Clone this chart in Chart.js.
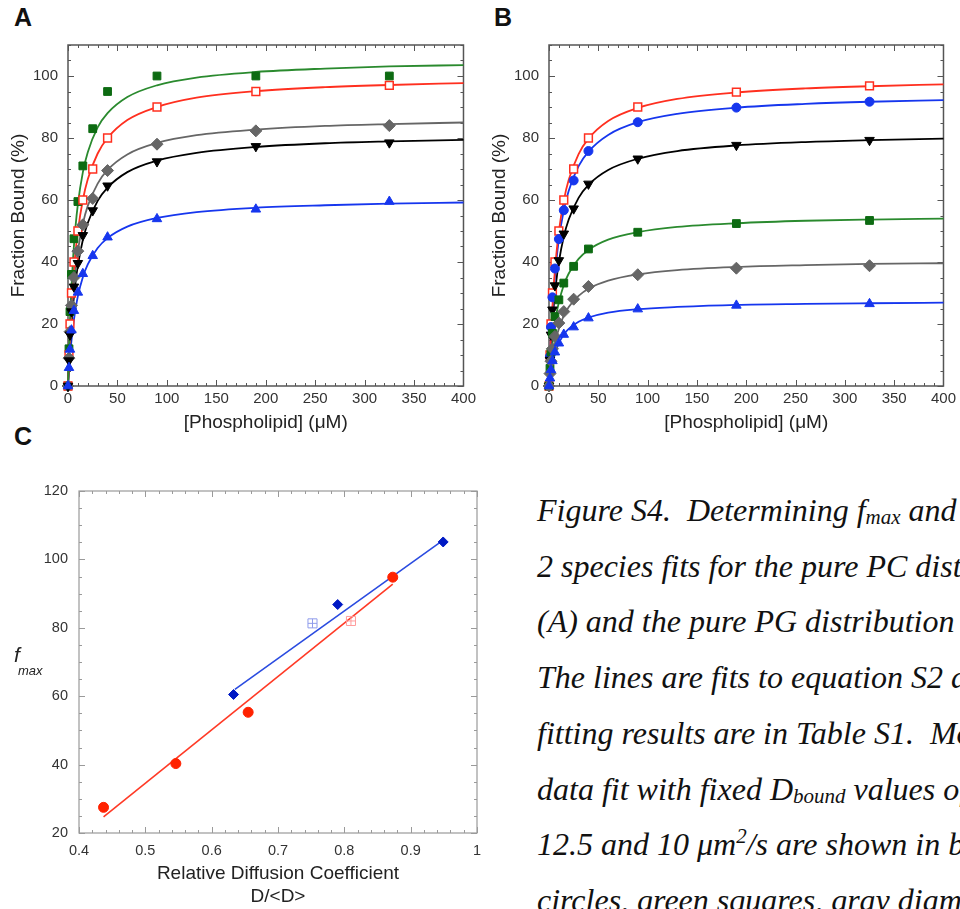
<!DOCTYPE html>
<html>
<head>
<meta charset="utf-8">
<script src="https://cdn.jsdelivr.net/npm/chart.js@4.4.0/dist/chart.umd.min.js"></script>
<style>
html, body { margin: 0; padding: 0; background: #fff; }
body { width: 960px; height: 909px; overflow: hidden; position: relative; }
canvas { position: absolute; }
.lbl { position: absolute; font: bold 25px "Liberation Sans", Arial, sans-serif; line-height: 25px; color: #111; }
#cap { position: absolute; left: 537px; top: 483px; font: italic 32px "Liberation Serif", "Times New Roman", serif;
       line-height: 55.7px; white-space: nowrap; color: #111; }
#cap .sb { font-size: 21px; vertical-align: -3px; line-height: 0; }
#cap .sp { font-size: 21px; vertical-align: 12px; line-height: 0; }
</style>
</head>
<body>
<div class="lbl" style="left:14px;top:5px">A</div>
<div class="lbl" style="left:494px;top:5px">B</div>
<div class="lbl" style="left:14px;top:424px">C</div>

<canvas id="chartA" width="480" height="440" style="left:0;top:0"></canvas>
<canvas id="chartB" width="480" height="440" style="left:480px;top:0"></canvas>
<canvas id="chartC" width="500" height="469" style="left:0;top:440px"></canvas>

<div id="cap">
<div>Figure S4.&nbsp; Determining f<span class="sb">max</span> and D<span class="sb">bound</span> values</div>
<div>2 species fits for the pure PC distribution</div>
<div>(A) and the pure PG distribution (B).</div>
<div>The lines are fits to equation S2 and the</div>
<div>fitting results are in Table S1.&nbsp; Monte</div>
<div>data fit with fixed D<span class="sb">bound</span> values of 20, 15,</div>
<div>12.5 and 10 &mu;m<span class="sp">2</span>/s are shown in blue</div>
<div>circles, green squares, gray diamonds</div>
</div>

<script>
// concentrations of the measured points (uM)
var conc = [0, 1, 2, 3.5, 6, 10, 15, 25, 40, 90, 190, 325];
// x positions where the fitted curves were read
var fitX = [0, 1, 2, 3, 5, 7.5, 10, 15, 20, 30, 40, 60, 90, 130, 190, 260, 325, 400];
var xTicksAB = [0, 50, 100, 150, 200, 250, 300, 350, 400];
var yTicksAB = [0, 20, 40, 60, 80, 100];

// panel A - pure PC
var aGreen = [0, 12, 24, 36, 47.5, 59.5, 71, 83, 95, 100, 100, 100];
var aRed = [0, 10, 20, 30, 40, 50, 60, 70, 80, 90, 95, 97];
var aGray = [0, 9, 17.5, 26, 35, 43.5, 52, 60.5, 69.5, 78, 82.3, 84];
var aBlack = [0, 8.2, 16.5, 24, 32, 39.6, 48.6, 56.6, 64.6, 72.4, 77.3, 78.5];
var aBlue = [0, 5.9, 11.8, 18, 24.3, 30.2, 36.2, 42, 48, 53.9, 57, 59.5];

var aGreenFit = [0, 11.7, 21.1, 28.8, 40.6, 51.1, 58.7, 68.9, 75.4, 83.4, 88, 93.2, 97, 99.5, 101.3, 102.4, 103.1, 103.5];
var aRedFit = [0, 9.1, 16.7, 23.1, 33.4, 42.9, 50, 60, 66.7, 75, 80, 85.8, 90, 93, 95.1, 96.4, 97.1, 97.7];
var aGrayFit = [0, 7.9, 14.5, 20.1, 29, 37.3, 43.6, 52.3, 58.1, 65.3, 69.7, 74.7, 78.4, 80.9, 82.7, 83.9, 84.5, 85];
var aBlackFit = [0, 6.8, 12.6, 17.5, 25.5, 33.1, 38.9, 47.1, 52.6, 59.7, 64, 69, 72.7, 75.2, 77.1, 78.3, 78.9, 79.4];
var aBlueFit = [0, 5.1, 9.4, 13, 19, 24.6, 29, 35.1, 39.2, 44.5, 47.7, 51.4, 54.2, 56.1, 57.5, 58.3, 58.8, 59.2];

// panel B - pure PG
var bRed = [0, 10, 20, 30, 40, 50, 60, 70, 80, 90, 94.8, 96.8];
var bBlueCirc = [0, 9.5, 19, 28.6, 37.9, 47.4, 56.7, 66.3, 75.8, 85.1, 89.8, 91.7];
var bBlack = [0, 8.4, 16.5, 24.6, 32.4, 40.5, 49.1, 57.2, 65.2, 73.3, 77.7, 79.3];
var bGreen = [0, 5.7, 11, 17, 22.4, 27.8, 33.2, 38.6, 44.2, 49.6, 52.4, 53.4];
var bGray = [0, 4, 8, 12, 16, 20.3, 24, 28, 32.1, 35.9, 38, 38.8];
var bBlueTri = [0, 2.5, 5.2, 8.1, 10.9, 13.8, 16.6, 19, 21.9, 24.8, 26, 26.5];

var bRedFit = [0, 9.1, 16.6, 23, 33.2, 42.7, 49.9, 59.8, 66.5, 74.8, 79.8, 85.5, 89.7, 92.6, 94.7, 96, 96.7, 97.3];
var bBlueCircFit = [0, 8.6, 15.8, 21.8, 31.5, 40.5, 47.3, 56.7, 63, 70.9, 75.6, 81, 85.1, 87.8, 89.8, 91, 91.7, 92.2];
var bBlackFit = [0, 7.1, 13.1, 18.2, 26.5, 34.1, 40, 48.2, 53.7, 60.7, 64.9, 69.7, 73.3, 75.8, 77.6, 78.7, 79.3, 79.8];
var bGreenFit = [0, 4.8, 8.9, 12.3, 17.9, 23.1, 27, 32.6, 36.3, 41, 43.9, 47.2, 49.6, 51.3, 52.5, 53.3, 53.7, 54];
var bGrayFit = [0, 3.1, 5.8, 8.2, 12, 15.7, 18.5, 22.7, 25.5, 29.1, 31.4, 34, 36, 37.4, 38.4, 39, 39.4, 39.6];
var bBlueTriFit = [0, 2.5, 4.6, 6.4, 9.2, 11.8, 13.8, 16.6, 18.4, 20.7, 22.1, 23.7, 24.8, 25.5, 26.2, 26.5, 26.7, 26.9];

// panel C - fmax vs relative diffusion coefficient
var cBlueX = [0.633, 0.790, 0.949];
var cBlueY = [60.5, 86.8, 105.1];
var cRedX = [0.437, 0.546, 0.655, 0.873];
var cRedY = [27.5, 40.3, 55.3, 94.8];
var cOpenBlueX = [0.752];
var cOpenBlueY = [81.3];
var cOpenRedX = [0.810];
var cOpenRedY = [82.0];
var cBlueLineX = [0.635, 0.948];
var cBlueLineY = [62, 105.5];
var cRedLineX = [0.437, 0.873];
var cRedLineY = [24.7, 92.8];
var xTicksC = [0.4, 0.5, 0.6, 0.7, 0.8, 0.9, 1];
var yTicksC = [20, 40, 60, 80, 100, 120];

var GREEN = '#0d6b12', GREENLINE = '#2a8a2e', RED = '#ff2f1f', GRAY = '#666666', BLACK = '#000000', BLUE = '#1636ee';

Chart.defaults.font.family = '"Liberation Sans", Arial, sans-serif';
Chart.defaults.color = '#333';

function pts(xs, ys) {
    var out = [];
    for (var i = 0; i < xs.length; i++) {
        if (ys[i] !== null) out.push({ x: xs[i], y: ys[i] });
    }
    return out;
}

function fitSet(ys, color) {
    return {
        data: pts(fitX, ys), showLine: true, borderColor: color, borderWidth: 1.8,
        pointRadius: 0, cubicInterpolationMode: 'monotone', order: 2, clip: false
    };
}

function markSet(ys, color, style, r, filled, rot) {
    return {
        data: pts(conc, ys), showLine: false, pointStyle: style, pointRadius: r,
        pointRotation: rot || 0, backgroundColor: filled ? color : '#fff',
        borderColor: color, borderWidth: filled ? 1 : 1.5, order: 1, clip: false
    };
}

// frame and inward ticks on all four sides
function frameTicks(o) {
    return {
        id: 'frameTicks',
        beforeDatasetsDraw: function (chart) {
            var ctx = chart.ctx, a = chart.chartArea, sx = chart.scales.x, sy = chart.scales.y;
            ctx.save();
            ctx.strokeStyle = o.color;
            ctx.lineWidth = o.width;
            ctx.strokeRect(a.left, a.top, a.right - a.left, a.bottom - a.top);
            ctx.lineWidth = 1;
            ctx.beginPath();
            var n = Math.round((sx.max - sx.min) / o.xMinor), i, v, p, len;
            for (i = 0; i <= n; i++) {
                v = sx.min + i * o.xMinor;
                p = Math.round(sx.getPixelForValue(v)) + 0.5;
                len = Math.abs(v / o.xMajor - Math.round(v / o.xMajor)) < 1e-6 ? o.major : o.minor;
                ctx.moveTo(p, a.bottom); ctx.lineTo(p, a.bottom - len);
                ctx.moveTo(p, a.top); ctx.lineTo(p, a.top + len);
            }
            n = Math.round((sy.max - sy.min) / o.yMinor);
            for (i = 0; i <= n; i++) {
                v = sy.min + i * o.yMinor;
                p = Math.round(sy.getPixelForValue(v)) + 0.5;
                len = Math.abs(v / o.yMajor - Math.round(v / o.yMajor)) < 1e-6 ? o.major : o.minor;
                ctx.moveTo(a.left, p); ctx.lineTo(a.left + len, p);
                ctx.moveTo(a.right, p); ctx.lineTo(a.right - len, p);
            }
            ctx.stroke();
            ctx.restore();
        }
    };
}

function bindingChart(id, datasets, yAxisWidth, yTitlePad) {
    return new Chart(document.getElementById(id), {
        type: 'scatter',
        data: { datasets: datasets },
        options: {
            responsive: false, animation: false, devicePixelRatio: 1,
            layout: { padding: { top: 45, right: 15, left: 0, bottom: 0 } },
            plugins: { legend: { display: false }, tooltip: { enabled: false } },
            scales: {
                x: {
                    type: 'linear', min: 0, max: 400,
                    grid: { display: false, drawTicks: false }, border: { display: false },
                    afterBuildTicks: function (s) { s.ticks = xTicksAB.map(function (v) { return { value: v }; }); },
                    afterFit: function (s) { s.height = 54; },
                    ticks: { padding: 4, font: { size: 15 }, color: '#333', maxRotation: 0 },
                    title: { display: true, text: '[Phospholipid] (\u03bcM)', font: { size: 19 }, color: '#222', padding: { bottom: 6, top: 0 } }
                },
                y: {
                    type: 'linear', min: 0, max: 110,
                    grid: { display: false, drawTicks: false }, border: { display: false },
                    afterBuildTicks: function (s) { s.ticks = yTicksAB.map(function (v) { return { value: v }; }); },
                    afterFit: function (s) { s.width = yAxisWidth; },
                    ticks: { padding: 10, font: { size: 15 }, color: '#333' },
                    title: { display: true, text: 'Fraction Bound (%)', font: { size: 19 }, color: '#222', padding: { top: yTitlePad, bottom: 0 } }
                }
            }
        },
        plugins: [frameTicks({ color: '#555', width: 1.5, xMinor: 10, xMajor: 50, yMinor: 5, yMajor: 20, major: 6, minor: 3 })]
    });
}

bindingChart('chartA', [
    fitSet(aGreenFit, GREENLINE), fitSet(aRedFit, RED), fitSet(aGrayFit, GRAY),
    fitSet(aBlackFit, BLACK), fitSet(aBlueFit, BLUE),
    markSet(aBlue, BLUE, 'triangle', 5.5, true),
    markSet(aBlack, BLACK, 'triangle', 5.5, true, 180),
    markSet(aGray, GRAY, 'rectRot', 6, true),
    markSet(aRed, RED, 'rect', 5.5, false),
    markSet(aGreen, GREEN, 'rect', 5.5, true)
], 68, 7);

bindingChart('chartB', [
    fitSet(bRedFit, RED), fitSet(bBlueCircFit, BLUE), fitSet(bBlackFit, BLACK),
    fitSet(bGreenFit, GREENLINE), fitSet(bGrayFit, GRAY), fitSet(bBlueTriFit, BLUE),
    markSet(bBlueTri, BLUE, 'triangle', 5.5, true),
    markSet(bGray, GRAY, 'rectRot', 6, true),
    markSet(bGreen, GREEN, 'rect', 5.5, true),
    markSet(bBlack, BLACK, 'triangle', 5.5, true, 180),
    markSet(bBlueCirc, BLUE, 'circle', 4.5, true),
    markSet(bRed, RED, 'rect', 5.5, false)
], 69, 8);

// y title of panel C: italic f with subscript max
var fmaxTitle = {
    id: 'fmaxTitle',
    afterDraw: function (chart) {
        var ctx = chart.ctx;
        ctx.save();
        ctx.fillStyle = '#222';
        ctx.textBaseline = 'alphabetic';
        ctx.font = 'italic 21px "Liberation Sans", Arial, sans-serif';
        ctx.fillText('f', 14, 222);
        ctx.font = 'italic 13px "Liberation Sans", Arial, sans-serif';
        ctx.fillText('max', 18, 235);
        ctx.restore();
    }
};

new Chart(document.getElementById('chartC'), {
    type: 'scatter',
    data: {
        datasets: [
            { data: pts(cBlueLineX, cBlueLineY), showLine: true, borderColor: '#2a4be0', borderWidth: 1.6, pointRadius: 0, order: 2 },
            { data: pts(cRedLineX, cRedLineY), showLine: true, borderColor: '#ff3a26', borderWidth: 1.6, pointRadius: 0, order: 2 },
            { data: pts(cOpenBlueX, cOpenBlueY), pointStyle: 'rect', pointRadius: 6.4, backgroundColor: 'rgba(0,0,0,0)', borderColor: '#8f9ceb', borderWidth: 1, order: 1 },
            { data: pts(cOpenBlueX, cOpenBlueY), pointStyle: 'cross', pointRadius: 4.5, borderColor: '#8f9ceb', borderWidth: 1, order: 1 },
            { data: pts(cOpenRedX, cOpenRedY), pointStyle: 'rect', pointRadius: 6.4, backgroundColor: 'rgba(0,0,0,0)', borderColor: '#ff9c9c', borderWidth: 1, order: 1 },
            { data: pts(cOpenRedX, cOpenRedY), pointStyle: 'cross', pointRadius: 4.5, borderColor: '#ff9c9c', borderWidth: 1, order: 1 },
            { data: pts(cRedX, cRedY), pointStyle: 'circle', pointRadius: 5, backgroundColor: '#ff2200', borderColor: '#ff2200', borderWidth: 1, order: 1 },
            { data: pts(cBlueX, cBlueY), pointStyle: 'rectRot', pointRadius: 5, backgroundColor: '#0019c4', borderColor: '#0019c4', borderWidth: 1, order: 1 }
        ]
    },
    options: {
        responsive: false, animation: false, devicePixelRatio: 1,
        layout: { padding: { top: 51, right: 23, left: 0, bottom: 0 } },
        plugins: { legend: { display: false }, tooltip: { enabled: false } },
        scales: {
            x: {
                type: 'linear', min: 0.4, max: 1,
                grid: { display: false, drawTicks: false }, border: { display: false },
                afterBuildTicks: function (s) { s.ticks = xTicksC.map(function (v) { return { value: v }; }); },
                afterFit: function (s) { s.height = 76; },
                ticks: { padding: 9, font: { size: 14.5 }, color: '#333', maxRotation: 0,
                         callback: function (v) { return String(Math.round(v * 10) / 10); } },
                title: { display: true, text: ['Relative Diffusion Coefficient', 'D/<D>'], font: { size: 19 }, color: '#222', padding: { bottom: 1, top: 0 } }
            },
            y: {
                type: 'linear', min: 20, max: 120,
                grid: { display: false, drawTicks: false }, border: { display: false },
                afterBuildTicks: function (s) { s.ticks = yTicksC.map(function (v) { return { value: v }; }); },
                afterFit: function (s) { s.width = 79; },
                ticks: { padding: 11, font: { size: 14.5 }, color: '#333' }
            }
        }
    },
    plugins: [frameTicks({ color: '#9a9a9a', width: 1.2, xMinor: 0.02, xMajor: 0.1, yMinor: 5, yMajor: 20, major: 6, minor: 3 }), fmaxTitle]
});
</script>
</body>
</html>
